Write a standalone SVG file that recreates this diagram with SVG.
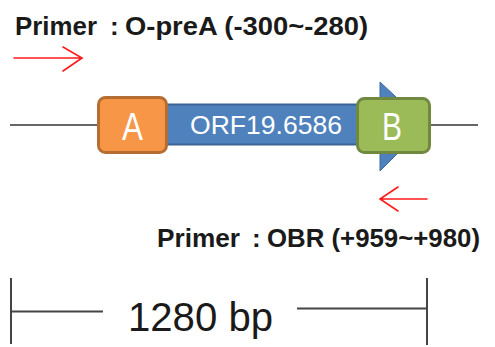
<svg xmlns="http://www.w3.org/2000/svg" width="495" height="347" viewBox="0 0 495 347">
<style>
.lbl{font-family:"Liberation Sans",Arial,sans-serif;font-weight:bold;font-size:26px;fill:#1a1a1a}
.box{font-family:"Liberation Sans",Arial,sans-serif;fill:#ffffff}
.red{stroke:#ff1a1a;stroke-width:1.6;fill:none;stroke-linecap:round}
.scale{stroke:#444;stroke-width:2;fill:none}
</style>
<rect width="495" height="347" fill="#ffffff"/>
<g id="connectors">
<line x1="10" y1="125" x2="478" y2="125" stroke="#333" stroke-width="1.6"/>
<path class="red" d="M14 58 H82 M63 47 L82 58 L63 71"/>
<path class="red" d="M427 199 H380 M398 187 L380 199 L398 211"/>
</g>
<g id="orf">
<polygon points="380,82 380,171 426,125" fill="#4F81BD" stroke="#3D6A9E" stroke-width="1"/>
<rect x="165" y="104.5" width="200" height="40" fill="#4F81BD" stroke="#3A6292" stroke-width="2"/>
<text class="box" x="190" y="134" font-size="26" textLength="152" lengthAdjust="spacingAndGlyphs" fill="#EEF3FA">ORF19.6586</text>
</g>
<g id="boxA">
<rect x="98.5" y="97.5" width="68" height="55" rx="7" fill="#F79646" stroke="#B66D31" stroke-width="3"/>
<text class="box" x="122" y="140" font-size="38" textLength="21" lengthAdjust="spacingAndGlyphs">A</text>
</g>
<g id="boxB">
<rect x="357.5" y="98.5" width="72" height="54" rx="7" fill="#9BBB59" stroke="#71893F" stroke-width="3"/>
<text class="box" x="382" y="140" font-size="38" textLength="20" lengthAdjust="spacingAndGlyphs">B</text>
</g>
<g id="primer1">
<text class="lbl" y="35"><tspan x="15" textLength="82" lengthAdjust="spacingAndGlyphs">Primer</tspan><tspan x="110">:</tspan><tspan x="125" textLength="243" lengthAdjust="spacingAndGlyphs">O-preA (-300~-280)</tspan></text>
</g>
<g id="primer2">
<text class="lbl" y="247"><tspan x="157" textLength="83" lengthAdjust="spacingAndGlyphs">Primer</tspan><tspan x="252">:</tspan><tspan x="267" textLength="213" lengthAdjust="spacingAndGlyphs">OBR (+959~+980)</tspan></text>
</g>
<g id="scalebar">
<path class="scale" d="M11 278 V344 M11 311.5 H103 M427 278 V345 M297 308.5 H427"/>
<text x="128" y="331" font-family="Liberation Sans, Arial, sans-serif" font-size="40" fill="#1a1a1a" textLength="145" lengthAdjust="spacingAndGlyphs">1280 bp</text>
</g>
</svg>
